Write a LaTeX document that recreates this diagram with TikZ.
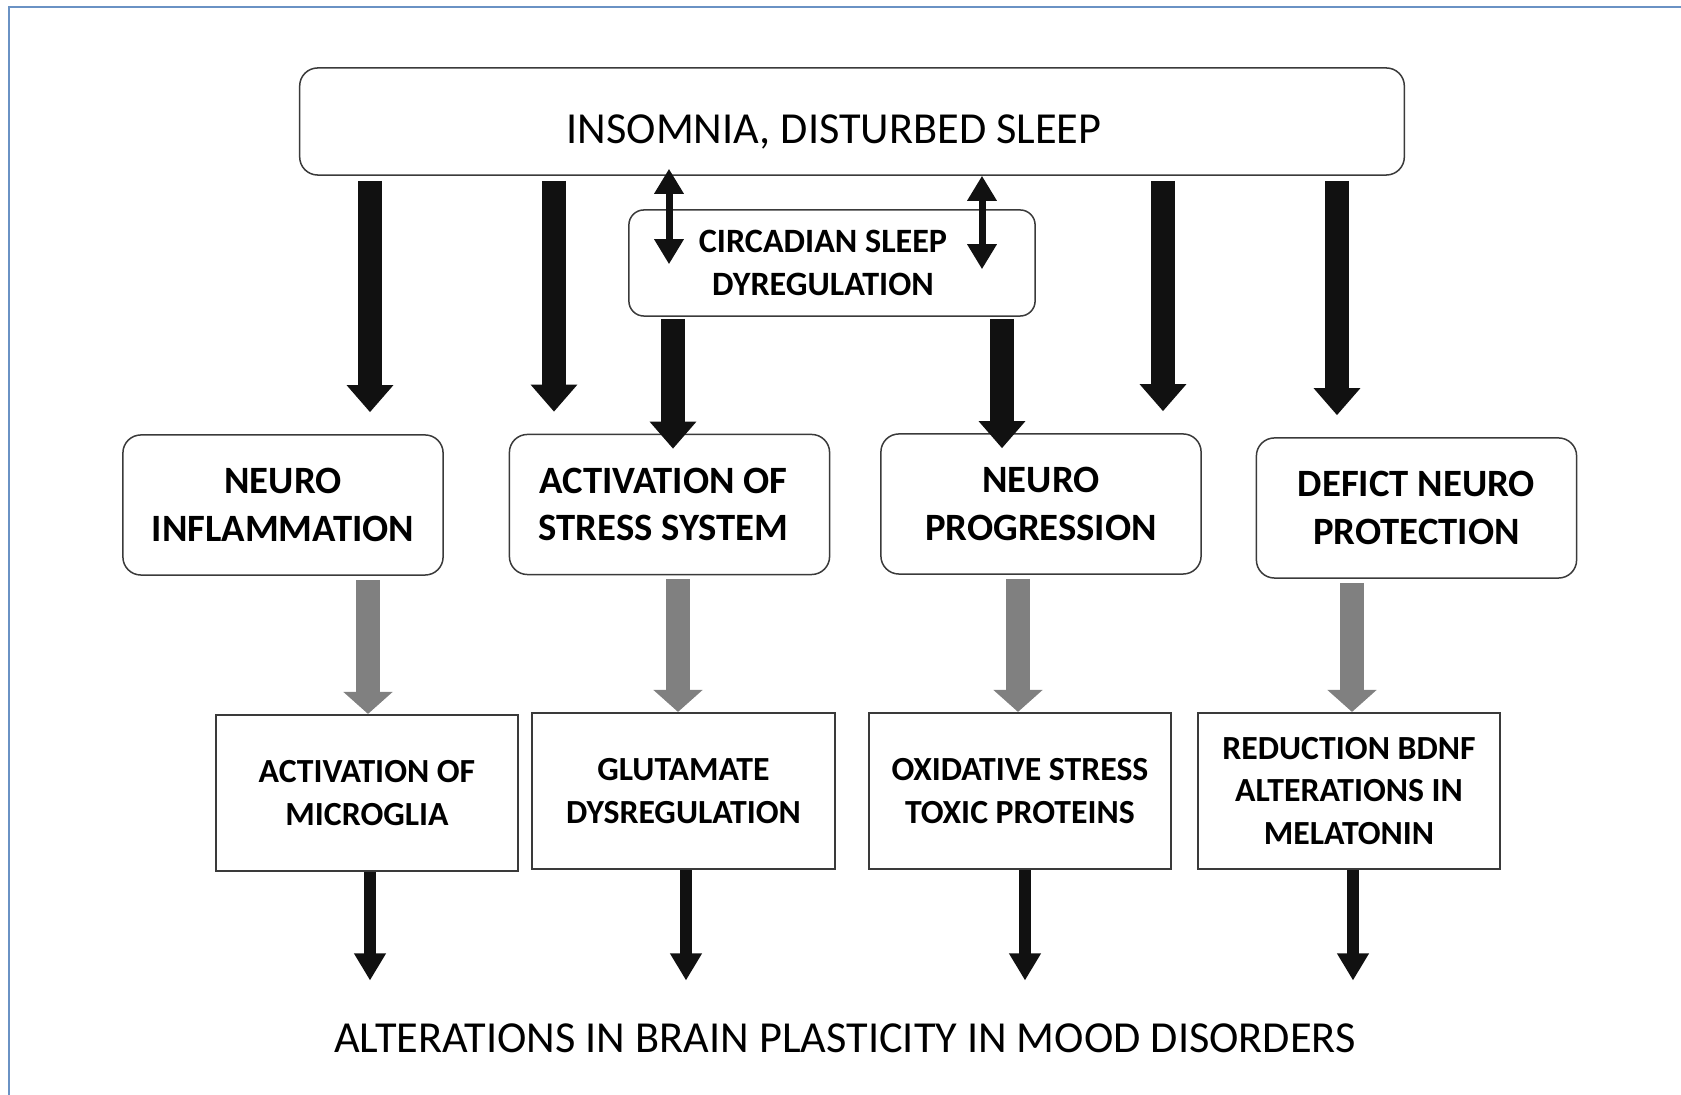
\documentclass[tikz,border=0pt]{standalone}
\usepackage{fontspec}
\setmainfont{Carlito}
\usepackage{tikz}
\usetikzlibrary{arrows.meta}
\definecolor{framec}{HTML}{6A92C4}
\definecolor{boxline}{HTML}{3A3A3A}
\definecolor{darkarrow}{HTML}{111111}
\definecolor{midgray}{HTML}{808080}
\tikzset{
  roundbox/.style={draw=boxline, line width=0.015cm, rounded corners=0.18cm, align=center, inner sep=0pt},
  flatbox/.style={draw=boxline, line width=0.02cm, align=center, inner sep=0pt,
    minimum width=3.02cm, minimum height=1.56cm, font=\bfseries\fontsize{9.6}{12.2}\selectfont},
  midbox/.style={roundbox, minimum width=3.2cm, minimum height=1.4cm, font=\bfseries\fontsize{11}{13.4}\selectfont},
  bigarrow/.style={darkarrow, line width=0.24cm, -{Triangle[width=0.45cm, length=0.27cm]}},
  grayarrow/.style={midgray, line width=0.24cm, -{Triangle[width=0.48cm, length=0.22cm]}},
  thinarrow/.style={darkarrow, line width=0.12cm, -{Triangle[width=0.30cm, length=0.27cm]}},
  dblarrow/.style={darkarrow, line width=0.07cm, {Triangle[width=0.28cm, length=0.25cm]}-{Triangle[width=0.28cm, length=0.25cm]}}
}

\begin{document}
\begin{tikzpicture}[x=0.01cm, y=-0.01cm]
\useasboundingbox (0,0) rectangle (1681,1095);

% frame
\draw[framec, line width=0.02cm] (9,1095) -- (9,7) -- (1681,7);

\node[roundbox, minimum width=11.04cm, minimum height=1.07cm, text height=0.45cm, text depth=0pt, font=\fontsize{12.6}{15}\selectfont] (sleep) at (852,121.5) {INSOMNIA, DISTURBED SLEEP\hspace*{0.36cm}};
\node[roundbox, rounded corners=0.15cm, minimum width=4.06cm, minimum height=1.06cm, font=\bfseries\fontsize{9.7}{12.2}\selectfont] (circ) at (832,263) {CIRCADIAN SLEEP\hspace*{0.18cm}\\DYREGULATION\hspace*{0.18cm}};

\node[midbox] (ni) at (283,505) {NEURO\\INFLAMMATION};
\node[midbox] (as) at (669.5,504.5) {ACTIVATION OF\hspace*{0.12cm}\\STRESS SYSTEM\hspace*{0.12cm}};
\node[midbox] (np) at (1041,504) {NEURO\\PROGRESSION};
\node[midbox] (dn) at (1416.5,508) {DEFICT NEURO\\PROTECTION};

\node[flatbox] (am) at (367,793) {ACTIVATION OF\\MICROGLIA};
\node[flatbox] (gd) at (683.5,791) {GLUTAMATE\\DYSREGULATION};
\node[flatbox] (os) at (1020,791) {OXIDATIVE STRESS\\TOXIC PROTEINS};
\node[flatbox] (rb) at (1349,791) {REDUCTION BDNF\\ALTERATIONS IN\\MELATONIN};

\node[inner sep=0pt, anchor=base, font=\fontsize{12.6}{15}\selectfont] (title) at (845,1053) {ALTERATIONS IN BRAIN PLASTICITY IN MOOD DISORDERS};

% sleep to middle row
\foreach \x/\n in {370/ni, 554/as, 1163/np, 1337/dn}{
    \draw[bigarrow, shorten <=0.05cm, shorten >=0.22cm] (sleep.south -| \x,0) -- (\n.north -| \x,0);
}

% circadian
\draw[dblarrow, shorten <=-0.07cm, shorten >=-0.55cm] (sleep.south -| 669,0) -- (circ.north -| 669,0);
\draw[dblarrow, shorten >=-0.6cm] (sleep.south -| 982,0) -- (circ.north -| 982,0);
\foreach \x/\n in {673/as, 1002/np}{
    \draw[bigarrow, shorten <=0.02cm, shorten >=-0.15cm] (circ.south -| \x,0) -- (\n.north -| \x,0);
}

% middle to bottom row
\foreach \x/\a/\b in {368/ni/am, 678/as/gd, 1018/np/os, 1352/dn/rb}{
    \draw[grayarrow, shorten <=0.04cm] (\a.south -| \x,0) -- (\b.north -| \x,0);
}

\foreach \x/\n in {370/am, 686/gd, 1025/os, 1353/rb}{
    \draw[thinarrow, shorten >=0.43cm] (\n.south -| \x,0) -- (title.north -| \x,0);
}

\end{tikzpicture}
\end{document}
